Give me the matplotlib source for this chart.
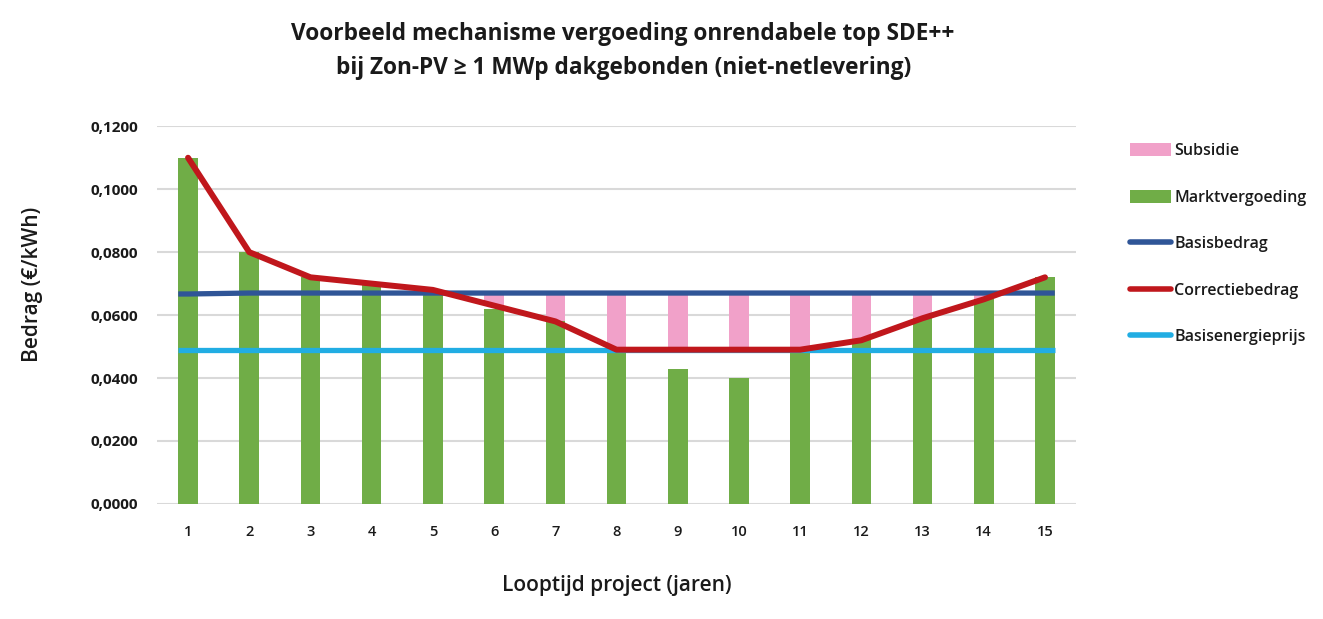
import numpy as np
import matplotlib.pyplot as plt
from matplotlib.patches import Patch
from matplotlib.lines import Line2D
from matplotlib.ticker import FuncFormatter

# ============================================================
# DATA
# ============================================================

years = np.arange(1, 16)
marktvergoeding = [0.110, 0.080, 0.072, 0.070, 0.068, 0.062, 0.058, 0.049,
                   0.043, 0.040, 0.049, 0.052, 0.059, 0.065, 0.072]
correctiebedrag = [0.110, 0.080, 0.072, 0.070, 0.068, 0.063, 0.058, 0.049,
                   0.049, 0.049, 0.049, 0.052, 0.059, 0.065, 0.072]
basisbedrag = [0.0667, 0.0670, 0.0670, 0.0670, 0.0670, 0.0670, 0.0670, 0.0670,
               0.0670, 0.0670, 0.0670, 0.0670, 0.0670, 0.0670, 0.0670]
basisenergieprijs = [0.049] * 15

y_ticks = [0.0, 0.02, 0.04, 0.06, 0.08, 0.10, 0.12]

title = ("Voorbeeld mechanisme vergoeding onrendabele top SDE++\n"
         "bij Zon-PV \u2265 1 MWp dakgebonden (niet-netlevering)")

# subsidy fills the gap between correctiebedrag and basisbedrag
corr = np.array(correctiebedrag)
basis = np.array(basisbedrag)
subsidie = np.clip(basis - corr, 0, None)

# ============================================================
# STYLE
# ============================================================

GREEN = '#70AD47'
PINK = '#F1A1C9'
NAVY = '#2F5597'
RED = '#C0171C'
CYAN = '#21ADE3'
GRID = '#D9D9D9'
TXT = '#1a1a1a'

plt.rcParams['font.family'] = ['Open Sans', 'DejaVu Sans']

BAR_W = 0.32

fig = plt.figure(figsize=(13.23, 6.19), dpi=100)
ax = fig.add_axes([0.119, 0.186, 0.694, 0.61])

ax.bar(years, marktvergoeding, width=BAR_W, color=GREEN, zorder=2)
ax.bar(years, subsidie, bottom=corr, width=BAR_W, color=PINK, zorder=2)

# horizontal reference lines run over the full bar span
x_ext = np.r_[years[0] - BAR_W / 2, years, years[-1] + BAR_W / 2]
ax.plot(x_ext, np.r_[basisbedrag[0], basisbedrag, basisbedrag[-1]],
        color=NAVY, lw=3.8, zorder=3, solid_capstyle='butt')
ax.plot(x_ext, np.r_[basisenergieprijs[0], basisenergieprijs, basisenergieprijs[-1]],
        color=CYAN, lw=3.8, zorder=3, solid_capstyle='butt')
ax.plot(years, correctiebedrag, color=RED, lw=4.3, zorder=4,
        solid_capstyle='round', solid_joinstyle='round')

ax.set_xlim(0.5, 15.5)
ax.set_ylim(0, 0.12)
ax.set_yticks(y_ticks)
ax.yaxis.set_major_formatter(FuncFormatter(lambda v, p: f"{v:.4f}".replace('.', ',')))
ax.set_xticks(years)
ax.grid(axis='y', color=GRID, lw=1.5, zorder=0)
ax.set_axisbelow(True)
for s in ax.spines.values():
    s.set_visible(False)
ax.tick_params(length=0)
ax.tick_params(axis='y', pad=14, labelsize=11, labelcolor=TXT)
ax.tick_params(axis='x', pad=15, labelsize=10.5, labelcolor=TXT)
for lbl in ax.get_yticklabels():
    lbl.set_fontweight('bold')
for lbl in ax.get_xticklabels():
    lbl.set_fontweight('semibold')

ax.set_ylabel('Bedrag (\u20ac/kWh)', fontsize=15, fontweight='semibold', color=TXT)
ax.yaxis.set_label_coords(-0.125, 0.58)
ax.set_xlabel('Looptijd project (jaren)', fontsize=15, fontweight='semibold',
              color=TXT, labelpad=26)

fig.suptitle(title, x=0.471, y=0.965, fontsize=16.3, fontweight='bold',
             color=TXT, linespacing=1.55)

handles = [
    Patch(facecolor=PINK, edgecolor='none'),
    Patch(facecolor=GREEN, edgecolor='none'),
    Line2D([0], [0], color=NAVY, lw=4, solid_capstyle='round'),
    Line2D([0], [0], color=RED, lw=4, solid_capstyle='round'),
    Line2D([0], [0], color=CYAN, lw=4, solid_capstyle='round'),
]
labels = ['Subsidie', 'Marktvergoeding', 'Basisbedrag', 'Correctiebedrag',
          'Basisenergieprijs']
leg = fig.legend(handles, labels, loc='upper left', bbox_to_anchor=(0.843, 0.792),
                 frameon=False, fontsize=11.5, labelspacing=1.9,
                 handlelength=2.6, handleheight=0.9, handletextpad=0.2)
for t in leg.get_texts():
    t.set_fontweight('semibold')
    t.set_color(TXT)

fig.savefig('out.png', dpi=100)
